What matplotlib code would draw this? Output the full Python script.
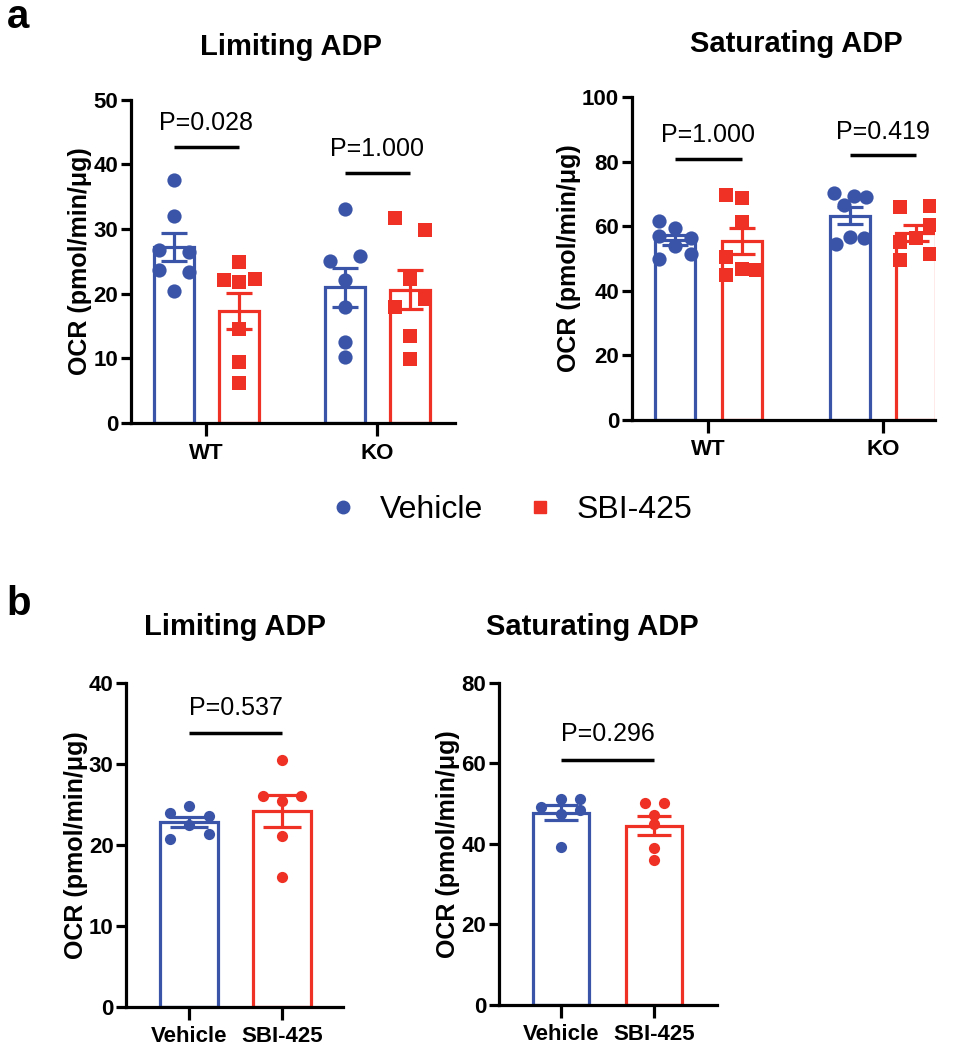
import numpy as np
import matplotlib
matplotlib.use('Agg')
import matplotlib.pyplot as plt

plt.rcParams['font.family'] = ['Liberation Sans', 'DejaVu Sans']

BLUE = '#3a55a8'
RED = '#ee3124'

# ---- data (OCR, pmol/min/ug) ----
treatments = ['Vehicle', 'SBI-425']
genotypes = ['WT', 'KO']

# panel a, limiting ADP
lim_wt_veh = [37.6, 32.1, 26.7, 26.4, 23.7, 23.4, 20.5]
lim_wt_sbi = [24.9, 22.2, 21.9, 22.3, 14.5, 9.4, 6.2]
lim_ko_veh = [33.1, 25.0, 25.9, 22.1, 18.0, 12.5, 10.3]
lim_ko_sbi = [31.7, 29.9, 22.3, 19.2, 18.0, 13.4, 9.9]
# panel a, saturating ADP
sat_wt_veh = [61.5, 59.6, 57.0, 56.5, 54.0, 51.5, 50.0]
sat_wt_sbi = [69.6, 68.6, 61.3, 50.5, 46.9, 46.4, 44.8]
sat_ko_veh = [70.3, 69.3, 68.9, 66.5, 56.7, 56.2, 54.6]
sat_ko_sbi = [66.0, 66.2, 60.3, 56.5, 55.2, 51.5, 49.5]
# panel b
b_lim_veh = [24.8, 24.0, 23.6, 22.4, 21.4, 20.7]
b_lim_sbi = [30.5, 26.0, 26.0, 25.4, 21.1, 16.1]
b_sat_veh = [51.2, 51.2, 49.2, 48.3, 47.5, 39.1]
b_sat_sbi = [50.2, 50.2, 47.1, 44.9, 39.0, 35.9]

pvals_a_lim = ['P=0.028', 'P=1.000']
pvals_a_sat = ['P=1.000', 'P=0.419']
pval_b_lim = 'P=0.537'
pval_b_sat = 'P=0.296'

# horizontal scatter of points, as fraction of bar width (layout only)
jit_lim = [[0, 0, -0.38, 0.38, -0.38, 0.38, 0],
           [0, -0.38, 0, 0.4, 0, 0, 0],
           [0, -0.38, 0.38, 0, 0, 0, 0],
           [-0.38, 0.38, 0, 0.38, -0.38, 0, 0]]
jit_sat = [[-0.4, 0, -0.4, 0.4, 0, 0.4, -0.4],
           [-0.4, 0, 0, -0.38, 0, 0.35, -0.38],
           [-0.4, 0.1, 0.4, -0.15, 0, 0.35, -0.35],
           [-0.4, 0.36, 0.36, 0, -0.4, 0.36, -0.4]]
jit_b_lim = [[0, -0.34, 0.34, 0, 0.34, -0.34], [0, -0.33, 0.33, 0, 0, 0]]
jit_b_sat = [[0, 0.33, -0.35, 0.33, 0, 0], [-0.16, 0.17, 0, 0, 0, 0]]

fig = plt.figure(figsize=(9.63, 10.5), dpi=100)


def style_axes(ax, ymax, step, xlim, xticks, xlabels):
    ax.set_xlim(*xlim)
    ax.set_ylim(0, ymax)
    ax.set_yticks(np.arange(0, ymax + 1, step))
    ax.set_xticks(xticks)
    ax.set_xticklabels(xlabels)
    for s in ['top', 'right']:
        ax.spines[s].set_visible(False)
    for s in ['left', 'bottom']:
        ax.spines[s].set_linewidth(2.3)
    ax.tick_params(axis='both', width=2.3, length=7, labelsize=16, pad=2)
    ax.tick_params(axis='x', length=9, pad=5)
    for lab in ax.get_xticklabels() + ax.get_yticklabels():
        lab.set_fontweight('bold')
    ax.set_ylabel('OCR (pmol/min/\u03bcg)', fontsize=18, fontweight='bold', labelpad=1)


def draw_group(ax, x, vals, color, marker, width, jit, ms, cap):
    vals = np.asarray(vals)
    m = vals.mean()
    sem = vals.std(ddof=1) / np.sqrt(len(vals))
    ax.bar(x, m, width=width, facecolor='white', edgecolor=color, linewidth=2.3, zorder=2)
    xs = x + np.asarray(jit) * width
    ax.scatter(xs, vals, s=ms, marker=marker, color=color, linewidths=0, zorder=3)
    ax.errorbar(x, m, yerr=sem, color=color, capsize=cap, capthick=2.3,
                elinewidth=2.3, zorder=4)


def sig(ax, x1, x2, y, text, ty):
    ax.plot([x1, x2], [y, y], color='black', lw=2.5, solid_capstyle='butt')
    ax.text((x1 + x2) / 2, ty, text, ha='center', va='baseline', fontsize=18)


# ---------- panel a ----------
ax1 = fig.add_axes([0.136, 0.597, 0.337, 0.308])
ax2 = fig.add_axes([0.656, 0.600, 0.315, 0.3076])

off = 0.19
for ax, groups, jits, pv, step, ymax, xl, w, sy in [
        (ax1, [lim_wt_veh, lim_wt_sbi, lim_ko_veh, lim_ko_sbi], jit_lim, pvals_a_lim,
         10, 50, (-0.44, 1.456), 0.234, [(42.7, 45.3), (38.7, 41.3)]),
        (ax2, [sat_wt_veh, sat_wt_sbi, sat_ko_veh, sat_ko_sbi], jit_sat, pvals_a_sat,
         20, 100, (-0.44, 1.30), 0.23, [(80.9, 86.0), (82.0, 87.0)])]:
    for gi in range(2):
        draw_group(ax, gi - off, groups[2 * gi], BLUE, 'o', w, jits[2 * gi], 105, 9.5)
        draw_group(ax, gi + off, groups[2 * gi + 1], RED, 's', w, jits[2 * gi + 1], 100, 9.5)
        sig(ax, gi - off, gi + off, sy[gi][0], pv[gi], sy[gi][1])
    style_axes(ax, ymax, step, xl, [0, 1], genotypes)

# ---------- panel b ----------
ax3 = fig.add_axes([0.131, 0.041, 0.2253, 0.3086])
ax4 = fig.add_axes([0.518, 0.043, 0.2264, 0.3067])

draw_group(ax3, 0, b_lim_veh, BLUE, 'o', 0.62, jit_b_lim[0], 65, 14)
draw_group(ax3, 1, b_lim_sbi, RED, 'o', 0.62, jit_b_lim[1], 65, 14)
sig(ax3, 0, 1, 33.8, pval_b_lim, 36.0)
style_axes(ax3, 40, 10, (-0.68, 1.66), [0, 1], treatments)

draw_group(ax4, 0, b_sat_veh, BLUE, 'o', 0.61, jit_b_sat[0], 65, 12)
draw_group(ax4, 1, b_sat_sbi, RED, 'o', 0.61, jit_b_sat[1], 65, 12)
sig(ax4, 0, 1, 60.9, pval_b_sat, 65.5)
style_axes(ax4, 80, 20, (-0.667, 1.677), [0, 1], treatments)

# titles and panel letters
fig.text(0.302, 0.9476, 'Limiting ADP', ha='center', va='baseline', fontsize=21, fontweight='bold')
fig.text(0.827, 0.9500, 'Saturating ADP', ha='center', va='baseline', fontsize=21, fontweight='bold')
fig.text(0.244, 0.395, 'Limiting ADP', ha='center', va='baseline', fontsize=21, fontweight='bold')
fig.text(0.615, 0.395, 'Saturating ADP', ha='center', va='baseline', fontsize=21, fontweight='bold')
fig.text(0.007, 0.973, 'a', ha='left', va='baseline', fontsize=29, fontweight='bold')
fig.text(0.007, 0.414, 'b', ha='left', va='baseline', fontsize=29, fontweight='bold')

# legend
h1 = plt.Line2D([], [], marker='o', color=BLUE, linestyle='none', markersize=9)
h2 = plt.Line2D([], [], marker='s', color=RED, linestyle='none', markersize=9)
fig.legend([h1, h2], treatments, loc='center', bbox_to_anchor=(0.521, 0.514), ncol=2,
           frameon=False, fontsize=23, handletextpad=0.15, columnspacing=0.8)

fig.savefig('out.png', dpi=100)
